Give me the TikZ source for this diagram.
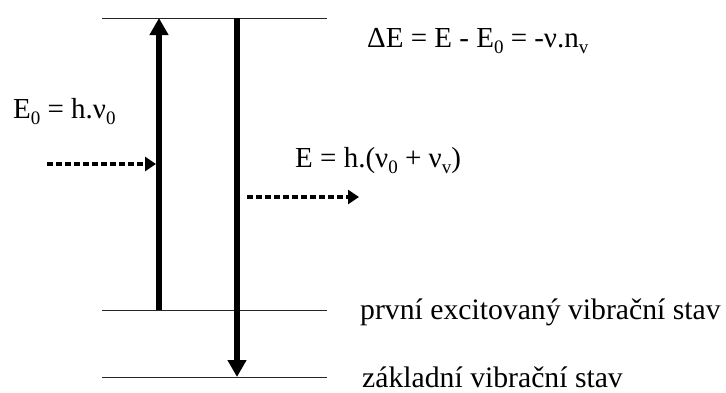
\documentclass[tikz,border=0pt]{standalone}
\usepackage{fontspec}
\setmainfont{Liberation Serif}
\usetikzlibrary{arrows.meta, positioning}
\newcommand{\lidx}[1]{\raisebox{-0.22em}{\fontsize{19}{19}\selectfont #1}}

\begin{document}
\begin{tikzpicture}[x=1pt, y=-1pt,
    level/.style={line width=0.9pt, draw=black!85},
    transition/.style={line width=6pt, -{Triangle[length=17pt, width=18pt]}},
    photon/.style={line width=4.5pt, dash pattern=on 5.5pt off 3.5pt,
                   -{Triangle[length=11pt, width=14pt]}},
    lbl/.style={anchor=base west, inner sep=0pt, font=\fontsize{29}{32}\selectfont},
    statelbl/.style={lbl, font=\fontsize{29.7}{32}\selectfont}]
  \useasboundingbox (0,0) rectangle (726,392);

  % Levels
  \coordinate (topL) at (102,18);   \coordinate (topR) at (327,18);
  \coordinate (midL) at (102,310);  \coordinate (midR) at (327,310);
  \coordinate (botL) at (102,377);  \coordinate (botR) at (327,377);
  \draw[level] (topL) -- (topR);
  \draw[level] (midL) -- (midR);
  \draw[level] (botL) -- (botR);

  % Transitions
  \coordinate (upS) at (159,310);   \coordinate (upE) at (159,18);
  \coordinate (dnS) at (237,18);    \coordinate (dnE) at (237,377);
  \draw[transition] (upS) -- (upE);
  \draw[transition] (dnS) -- (dnE);

  % Photons in / out
  \coordinate (inS) at (47,164);    \coordinate (inE) at (156,164);
  \coordinate (outS) at (247,197);  \coordinate (outE) at (359,197);
  \draw[photon] (inS) -- (inE);
  \draw[photon] (outS) -- (outE);

  % Labels
  \node[lbl] (eZero) at (13,118) {E\lidx{0} = h.ν\lidx{0}};
  \node[lbl] (eOut) at (295,167) {E = h.(ν\lidx{0} + ν\lidx{v})};
  \node[lbl] (dE) at (367,47) {ΔE = E - E\lidx{0} = -ν.n\lidx{v}};
  \node[statelbl] (first) at (360,319) {první excitovaný vibrační stav};
  \node[statelbl] (ground) at (362,387) {základní vibrační stav};
\end{tikzpicture}
\end{document}
